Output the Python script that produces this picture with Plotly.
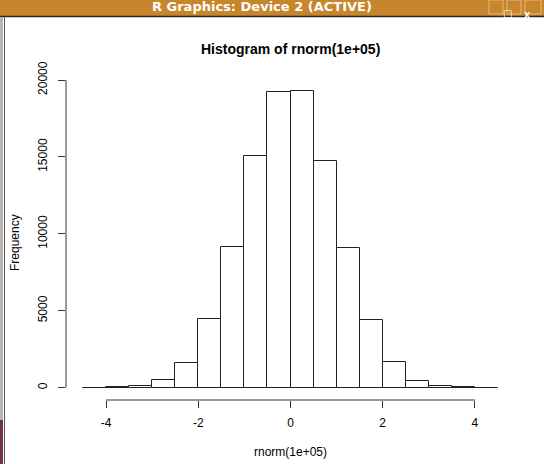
import plotly.graph_objects as go

# ---- data ----
bin_left = [-4.5, -4.0, -3.5, -3.0, -2.5, -2.0, -1.5, -1.0, -0.5,
            0.0, 0.5, 1.0, 1.5, 2.0, 2.5, 3.0, 3.5, 4.0]
counts = [3, 22, 110, 480, 1620, 4450, 9150, 15060, 19200,
          19265, 14760, 9060, 4380, 1700, 460, 120, 25, 2]
bin_width = 0.5
x_ticks = [-4, -2, 0, 2, 4]
y_ticks = [0, 5000, 10000, 15000, 20000]
title_text = "Histogram of rnorm(1e+05)"
x_label = "rnorm(1e+05)"
y_label = "Frequency"
window_title = "R Graphics: Device 2 (ACTIVE)"

W, H = 544, 464
L, R, T, B = 66, 29, 79, 64
PW, PH = W - L - R, H - T - B

def px(xp):
    return (xp - L) / PW

def py(yp):
    return 1 - (yp - T) / PH

centers = [b + bin_width / 2 for b in bin_left]

fig = go.Figure()
fig.add_trace(go.Bar(
    x=centers, y=counts, width=bin_width,
    marker=dict(color="white", line=dict(color="#222", width=1)),
    hoverinfo="x+y", showlegend=False,
))

font = "Liberation Sans, Arial, Helvetica, sans-serif"

shapes = [
    # R style detached axes
    dict(type="line", xref="x", yref="paper", x0=x_ticks[0], x1=x_ticks[-1], y0=0, y1=0,
         line=dict(color="#333", width=1)),
    dict(type="line", xref="paper", yref="y", x0=0, x1=0, y0=y_ticks[0], y1=y_ticks[-1],
         line=dict(color="#333", width=1)),
    # window chrome: title bar
    dict(type="rect", xref="paper", yref="paper", x0=px(0), x1=px(W), y0=py(0), y1=py(16),
         fillcolor="#c7852c", line=dict(width=0), layer="above"),
    dict(type="line", xref="paper", yref="paper", x0=px(0), x1=px(W), y0=py(16.5), y1=py(16.5),
         line=dict(color="#2a2a2a", width=1.5), layer="above"),
    # left border
    dict(type="rect", xref="paper", yref="paper", x0=px(0), x1=px(3), y0=py(17), y1=py(420),
         fillcolor="#b8b4b4", line=dict(width=0), layer="above"),
    dict(type="rect", xref="paper", yref="paper", x0=px(0), x1=px(3), y0=py(420), y1=py(H),
         fillcolor="#6e3448", line=dict(width=0), layer="above"),
    dict(type="line", xref="paper", yref="paper", x0=px(4.5), x1=px(4.5), y0=py(17), y1=py(H),
         line=dict(color="#555", width=1), layer="above"),
    # window buttons
    dict(type="rect", xref="paper", yref="paper", x0=px(489), x1=px(503), y0=py(0), y1=py(14),
         fillcolor="#c7852c", line=dict(color="#e8b878", width=1), layer="above"),
    dict(type="rect", xref="paper", yref="paper", x0=px(507), x1=px(521), y0=py(0), y1=py(14),
         fillcolor="#c7852c", line=dict(color="#e8b878", width=1), layer="above"),
    dict(type="rect", xref="paper", yref="paper", x0=px(525), x1=px(541), y0=py(0), y1=py(14),
         fillcolor="#c7852c", line=dict(color="#e8b878", width=1), layer="above"),
]

annotations = [
    dict(text=f"<b>{title_text}</b>", x=px(290), y=py(49), xref="paper", yref="paper",
         showarrow=False, xanchor="center", yanchor="middle",
         font=dict(family=font, size=14, color="black")),
    dict(text=x_label, x=px(290), y=py(452), xref="paper", yref="paper",
         showarrow=False, xanchor="center", yanchor="middle",
         font=dict(family=font, size=12, color="black")),
    dict(text=y_label, x=px(15), y=py(243), xref="paper", yref="paper", textangle=-90,
         showarrow=False, xanchor="center", yanchor="middle",
         font=dict(family=font, size=12, color="black")),
    dict(text=f"<b>{window_title}</b>", x=px(262), y=py(6), xref="paper", yref="paper",
         showarrow=False, xanchor="center", yanchor="middle",
         font=dict(family="DejaVu Sans, sans-serif", size=13, color="white")),
    dict(text="<b>_</b>", x=px(496), y=py(5), xref="paper", yref="paper",
         showarrow=False, font=dict(family=font, size=11, color="white")),
    dict(text="<b>□</b>", x=px(514), y=py(6), xref="paper", yref="paper",
         showarrow=False, font=dict(family="DejaVu Sans", size=10, color="white")),
    dict(text="<b>x</b>", x=px(533), y=py(6), xref="paper", yref="paper",
         showarrow=False, font=dict(family=font, size=11, color="white")),
]

fig.update_layout(
    width=W, height=H,
    margin=dict(l=L, r=R, t=T, b=B, pad=0),
    paper_bgcolor="white", plot_bgcolor="white",
    bargap=0,
    shapes=shapes, annotations=annotations,
    font=dict(family=font, size=12, color="black"),
    xaxis=dict(range=[-4.87, 4.87], tickvals=x_ticks, ticktext=[str(v) for v in x_ticks],
               showgrid=False, zeroline=False, showline=False,
               ticks="outside", ticklen=7, tickwidth=1, tickcolor="#333",
               ticklabelstandoff=5,
               tickfont=dict(family=font, size=12, color="black"), fixedrange=True),
    yaxis=dict(range=[-800, 20065], tickvals=y_ticks, ticktext=[str(v) for v in y_ticks],
               showgrid=False, zeroline=False, showline=False,
               ticks="outside", ticklen=7, tickwidth=1, tickcolor="#333", tickangle=-90,
               ticklabelstandoff=6,
               tickfont=dict(family=font, size=12, color="black"), fixedrange=True),
)

fig.write_html(
    "out.html",
    config={"displayModeBar": False},
    post_script="document.body.style.margin='0';document.body.style.overflow='hidden';",
)
